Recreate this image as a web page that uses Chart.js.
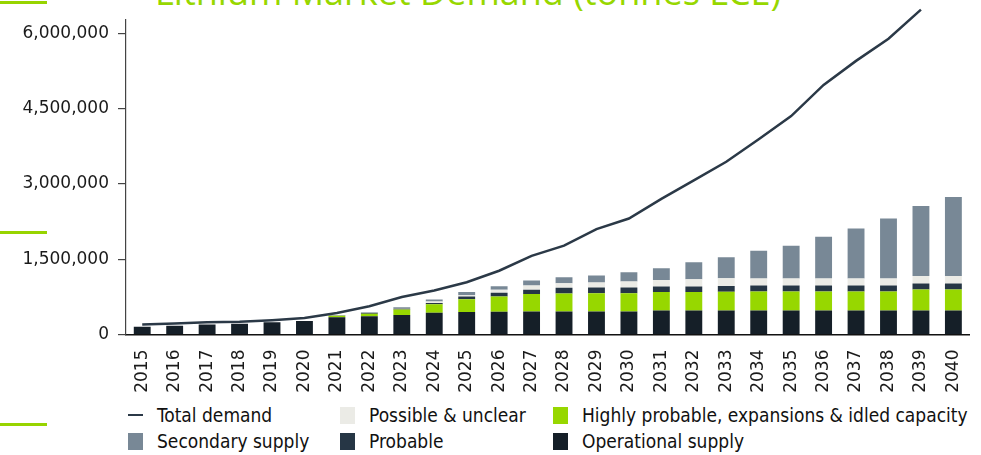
<!DOCTYPE html>
<html lang="en">
<head>
    <meta charset="UTF-8">
    <title>Lithium Market Demand</title>
    <script src="https://cdn.jsdelivr.net/npm/chart.js"></script>
    <style>
        body { margin: 0; background: #fff; width: 981px; height: 455px; overflow: hidden; position: relative; }
        .deco { position: absolute; left: 0; width: 47px; height: 3px; background: #97d400; }
        #title { position: absolute; left: 155px; top: -26px; font: 36px "Open Sans", sans-serif; line-height: 36px; color: #97d700; white-space: nowrap; }
        #chart { position: absolute; left: 0; top: 0; }
        #legend { position: absolute; left: 128px; top: 404px; display: grid; grid-template-columns: 212px 213px auto; row-gap: 4px;
                  font: 19px "DejaVu Sans Condensed", "DejaVu Sans", sans-serif; color: #111; }
        .item { display: flex; align-items: center; height: 22px; }
        .mark { width: 15px; height: 17px; margin-right: 14px; flex: none; }
        .mark.line { height: 2px; }
    </style>
</head>
<body>
    <div class="deco" style="top:1px"></div>
    <div class="deco" style="top:231px"></div>
    <div class="deco" style="top:423px"></div>
    <div id="title">Lithium Market Demand (tonnes LCE)</div>
    <canvas id="chart" width="981" height="400"></canvas>
    <div id="legend"></div>

    <script>
        // categories
        const years = ['2015', '2016', '2017', '2018', '2019', '2020', '2021', '2022', '2023', '2024', '2025', '2026', '2027',
                       '2028', '2029', '2030', '2031', '2032', '2033', '2034', '2035', '2036', '2037', '2038', '2039', '2040'];

        // supply stack (tonnes LCE), bottom to top
        const operational = [153000, 173000, 200000, 212000, 245000, 271000, 342000, 362000, 387000, 432000, 446000, 452000, 460000,
                             460000, 460000, 460000, 477000, 477000, 477000, 477000, 477000, 477000, 477000, 477000, 477000, 477000];
        const highlyProbable = [0, 0, 0, 0, 0, 0, 31000, 51000, 112000, 171000, 256000, 303000, 346000,
                                359000, 360000, 362000, 368000, 368000, 373000, 381000, 381000, 381000, 381000, 381000, 421000, 421000];
        const probable = [0, 0, 0, 0, 0, 0, 5000, 13000, 20000, 26000, 53000, 78000, 86000,
                          110000, 117000, 115000, 111000, 111000, 118000, 118000, 118000, 118000, 118000, 118000, 118000, 118000];
        const possible = [0, 0, 0, 0, 0, 0, 3000, 5000, 8000, 27000, 25000, 59000, 85000,
                          92000, 98000, 118000, 131000, 144000, 152000, 137000, 137000, 137000, 137000, 137000, 149000, 149000];
        const secondary = [0, 0, 0, 0, 0, 0, 5000, 15000, 17000, 40000, 65000, 71000, 98000,
                           119000, 138000, 183000, 235000, 340000, 420000, 557000, 657000, 832000, 997000, 1197000, 1395000, 1575000];

        // demand line (2040 runs off the top of the figure)
        const totalDemand = [200000, 220000, 245000, 252000, 285000, 330000, 430000, 564000, 747000, 878000, 1040000, 1270000, 1566000,
                             1770000, 2100000, 2310000, 2700000, 3070000, 3440000, 3890000, 4350000, 4970000, 5450000, 5890000, 6470000, null];

        const yTicks = [0, 1500000, 3000000, 4500000, 6000000];

        const barSet = (label, data, color) => ({
            type: 'bar', label: label, data: data, backgroundColor: color, stack: 'supply', order: 1,
            barPercentage: 0.52, categoryPercentage: 1.0
        });

        const datasets = [
            {
                type: 'line', label: 'Total demand', data: totalDemand, borderColor: '#2b3947', backgroundColor: '#2b3947',
                borderWidth: 2.5, pointRadius: 0, tension: 0, order: 0, clip: false
            },
            barSet('Operational supply', operational, '#151f28'),
            barSet('Highly probable, expansions & idled capacity', highlyProbable, '#97d700'),
            barSet('Probable', probable, '#263645'),
            barSet('Possible & unclear', possible, '#ebebe6'),
            barSet('Secondary supply', secondary, '#788896')
        ];

        const chart = new Chart(document.getElementById('chart'), {
            data: { labels: years, datasets: datasets },
            options: {
                responsive: false,
                devicePixelRatio: 1,
                animation: false,
                layout: { padding: { top: 15, right: 11, bottom: 0, left: 0 } },
                plugins: { legend: { display: false }, tooltip: { enabled: false } },
                scales: {
                    x: {
                        stacked: true,
                        grid: { display: false },
                        border: { display: true, color: '#111', width: 1.5 },
                        ticks: { minRotation: 90, maxRotation: 90, padding: 7, color: '#1a1a1a',
                                 font: { family: 'DejaVu Sans', size: 17 } },
                        afterFit: s => { s.height = 65.5; }
                    },
                    y: {
                        stacked: true,
                        min: 0, max: 6280000,
                        grid: { drawOnChartArea: false, drawTicks: true, tickLength: 8, tickColor: '#444', lineWidth: 1.2 },
                        border: { display: true, color: '#444', width: 1.2 },
                        afterBuildTicks: s => { s.ticks = yTicks.map(v => ({ value: v })); },
                        ticks: { padding: 9, color: '#1a1a1a', font: { family: 'DejaVu Sans', size: 17 },
                                 callback: v => v.toLocaleString('en-US') },
                        afterFit: s => { s.width = 126; }
                    }
                }
            }
        });

        // legend in three columns, two rows
        const legendOrder = ['Total demand', 'Possible & unclear', 'Highly probable, expansions & idled capacity',
                             'Secondary supply', 'Probable', 'Operational supply'];
        const legend = document.getElementById('legend');
        legendOrder.forEach(name => {
            const ds = chart.data.datasets.find(d => d.label === name);
            const item = document.createElement('div');
            item.className = 'item';
            const mark = document.createElement('span');
            mark.className = 'mark' + (ds.type === 'line' ? ' line' : '');
            mark.style.background = ds.type === 'line' ? ds.borderColor : ds.backgroundColor;
            item.appendChild(mark);
            item.appendChild(document.createTextNode(name));
            legend.appendChild(item);
        });
    </script>
</body>
</html>
